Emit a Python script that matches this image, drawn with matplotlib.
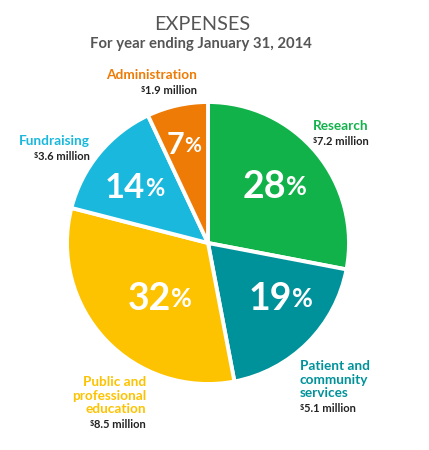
import matplotlib
matplotlib.use('Agg')
import matplotlib.pyplot as plt
import numpy as np

# data
categories = ['Research', 'Patient and\ncommunity\nservices', 'Public and\nprofessional\neducation',
              'Fundraising', 'Administration']
percents = [28, 19, 32, 14, 7]
amounts = ['7.2 million', '5.1 million', '8.5 million', '3.6 million', '1.9 million']
colors = ['#12b24b', '#00929a', '#fdc300', '#19b8dc', '#ee7b05']

plt.rcParams['font.family'] = ['Lato', 'DejaVu Sans']

W, H = 429, 450
fig = plt.figure(figsize=(W / 100, H / 100), dpi=100)
fig.patch.set_facecolor('white')

# pie axes: centre (208, 243), radius 141 px
cx, cy, r = 208, 243, 141
ax = fig.add_axes([(cx - r) / W, 1 - (cy + r) / H, 2 * r / W, 2 * r / H])
wedges, _ = ax.pie(percents, colors=colors, startangle=90, counterclock=False,
                   wedgeprops=dict(edgecolor='white', linewidth=2.8))
ax.set_xlim(-1, 1)
ax.set_ylim(-1, 1)
ax.set_aspect('equal')

# percent labels inside the wedges
label_r = [0.60, 0.63, 0.54, 0.67, 0.72]
label_shift = [2, 6, 4, 4, 3]   # degrees
digit_size = [27, 27, 27, 25, 22]
for i, w in enumerate(wedges):
    th = np.deg2rad((w.theta1 + w.theta2) / 2 + label_shift[i])
    x, y = label_r[i] * np.cos(th), label_r[i] * np.sin(th)
    x = x - 0.05 * digit_size[i] / 27
    t = ax.text(x, y, str(percents[i]), ha='center', va='center', color='white',
                fontsize=digit_size[i], fontweight='bold')
    ax.annotate('%', xy=(1, 0.84), xycoords=t, ha='left', va='top', color='white',
                fontsize=digit_size[i] * 0.68, fontweight='bold')

# titles
fig.text(202 / W, 1 - 25 / H, 'EXPENSES', ha='center', va='center', fontsize=14.3, color='#555555')
fig.text(201 / W, 1 - 44 / H, 'For year ending January 31, 2014', ha='center', va='center',
         fontsize=10.7, fontweight='bold', color='#555555')

# category labels: (x px, y px of first line, alignment)
label_pos = [(313, 126, 'left'), (300, 366, 'left'), (146, 382, 'right'),
             (90, 141, 'right'), (197, 75, 'right')]
line_h = 13.6
for i, name in enumerate(categories):
    x, y, ha = label_pos[i]
    lines = name.split('\n')
    for j, ln in enumerate(lines):
        fig.text(x / W, 1 - (y + j * line_h) / H, ln, ha=ha, va='center',
                 fontsize=9.8, fontweight='bold', color=colors[i])
    ya = y + len(lines) * line_h + 2
    xa = x + 4 if ha == 'left' else x
    t = fig.text(xa / W, 1 - ya / H, amounts[i], ha=ha, va='center',
                 fontsize=8, fontweight='bold', color='#222222')
    ax.annotate('$', xy=(0, 0.95), xycoords=t, ha='right', va='top',
                fontsize=5.2, fontweight='bold', color='#222222')

fig.savefig('out.png', dpi=100, facecolor='white')
